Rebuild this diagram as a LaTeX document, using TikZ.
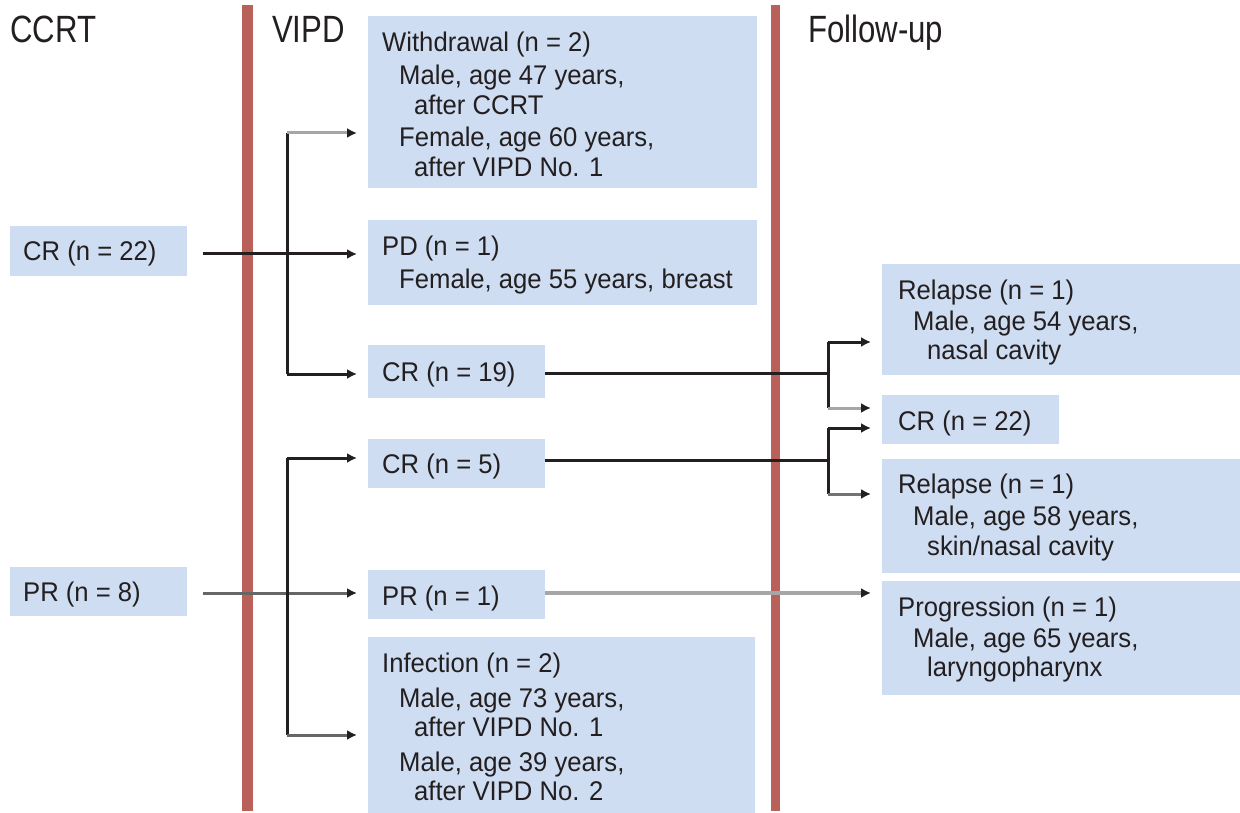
\documentclass[tikz,border=0pt]{standalone}
\usepackage{fontspec}
\setmainfont[FakeStretch=0.95]{Liberation Sans}
\newfontfamily\headfont[FakeStretch=0.82]{Liberation Sans}
\usetikzlibrary{arrows.meta}
\definecolor{boxblue}{RGB}{206,221,241}
\definecolor{barred}{RGB}{185,96,90}
\definecolor{ink}{RGB}{35,31,32}
\tikzset{
  box/.style={fill=boxblue, draw=none, inner sep=0pt, anchor=north west},
  txt/.style={anchor=base west, inner sep=0pt, text=ink, font=\fontsize{27}{30}\selectfont},
  head/.style={anchor=base west, inner sep=0pt, text=ink, font=\headfont\fontsize{38}{40}\selectfont},
  bar/.style={fill=barred, draw=none},
  conn/.style={draw=ink, line width=3pt},
  arr/.style={conn, -{Latex[length=10pt,width=10pt,color=ink]}, shorten >=11pt},
}
\begin{document}
\begin{tikzpicture}[x=1pt,y=-1pt]
\useasboundingbox (0,0) rectangle (1240,813);
% bars
\fill[bar] (242,5) rectangle (253,811);
\fill[bar] (771,5) rectangle (780,811);
% headers
\node[head] (hccrt) at (10,43) {CCRT};
\node[head] (hvipd) at (272,43) {VIPD};
\node[head] (hfu) at (808,43) {Follow-up};
% left boxes
\node[box, minimum width=177pt, minimum height=50pt] (cr22) at (10,226) {};
\node[txt] (tcr22) at (23,261) {CR (n = 22)};
\node[box, minimum width=177pt, minimum height=49pt] (pr8) at (10,567) {};
\node[txt] (tpr8) at (23,601) {PR (n = 8)};
% middle boxes
\node[box, minimum width=389pt, minimum height=172pt] (wd) at (368,16) {};
\node[txt] (wd1) at (382,52) {Withdrawal (n = 2)};
\node[txt] (wd2) at (399,85) {Male, age 47 years,};
\node[txt] (wd3) at (414,115) {after CCRT};
\node[txt] (wd4) at (399,147) {Female, age 60 years,};
\node[txt] (wd5) at (414,177) {after VIPD No. 1};
\node[box, minimum width=389pt, minimum height=85pt] (pd) at (368,220) {};
\node[txt] (pd1) at (382,255) {PD (n = 1)};
\node[txt] (pd2) at (399,288) {Female, age 55 years, breast};
\node[box, minimum width=177pt, minimum height=53pt] (cr19) at (368,345) {};
\node[txt] (tcr19) at (382,381) {CR (n = 19)};
\node[box, minimum width=177pt, minimum height=49pt] (cr5) at (368,439) {};
\node[txt] (tcr5) at (382,473) {CR (n = 5)};
\node[box, minimum width=177pt, minimum height=49pt] (pr1) at (368,570) {};
\node[txt] (tpr1) at (382,605) {PR (n = 1)};
\node[box, minimum width=387pt, minimum height=176pt] (inf) at (368,637) {};
\node[txt] (inf1) at (382,672) {Infection (n = 2)};
\node[txt] (inf2) at (399,707) {Male, age 73 years,};
\node[txt] (inf3) at (414,736) {after VIPD No. 1};
\node[txt] (inf4) at (399,771) {Male, age 39 years,};
\node[txt] (inf5) at (414,800) {after VIPD No. 2};
% right boxes
\node[box, minimum width=358pt, minimum height=111pt] (rl1) at (882,264) {};
\node[txt] (rl1a) at (898,299) {Relapse (n = 1)};
\node[txt] (rl1b) at (913,330) {Male, age 54 years,};
\node[txt] (rl1c) at (927,359) {nasal cavity};
\node[box, minimum width=177pt, minimum height=49pt] (fcr) at (882,395) {};
\node[txt] (tfcr) at (898,430) {CR (n = 22)};
\node[box, minimum width=358pt, minimum height=114pt] (rl2) at (882,459) {};
\node[txt] (rl2a) at (898,493) {Relapse (n = 1)};
\node[txt] (rl2b) at (913,525) {Male, age 58 years,};
\node[txt] (rl2c) at (927,555) {skin/nasal cavity};
\node[box, minimum width=358pt, minimum height=114pt] (prog) at (882,581) {};
\node[txt] (proga) at (898,616) {Progression (n = 1)};
\node[txt] (progb) at (913,647) {Male, age 65 years,};
\node[txt] (progc) at (927,676) {laryngopharynx};
% junction coordinates
\coordinate (s1) at (203,254);
\coordinate (j1) at (287,254);
\coordinate (j1t) at (287,133);
\coordinate (j1b) at (287,374);
\coordinate (s2) at (203,593);
\coordinate (j2) at (287,593);
\coordinate (j2t) at (287,458);
\coordinate (j2b) at (287,735);
\coordinate (k1) at (828,373);
\coordinate (k1t) at (828,342);
\coordinate (k1b) at (828,408);
\coordinate (k2) at (828,460);
\coordinate (k2t) at (828,428);
\coordinate (k2b) at (828,494);
\coordinate (p1) at (545,593);
% connectors, upper left tree
\draw[arr] (s1) -- (pd.west |- s1);
\draw[conn] (j1t) -- (j1b);
\draw[arr, draw=black!35] (j1t) -- (wd.west |- j1t);
\draw[arr] (j1b) -- (cr19.west |- j1b);
% lower left tree
\draw[arr, draw=black!60] (s2) -- (pr1.west |- s2);
\draw[conn] (j2t) -- (j2b);
\draw[arr] (j2t) -- (cr5.west |- j2t);
\draw[arr, draw=black!60] (j2b) -- (inf.west |- j2b);
% right trees
\draw[conn] (cr19.east |- k1) -- (k1);
\draw[conn] (k1t) -- (k1b);
\draw[arr] (k1t) -- (rl1.west |- k1t);
\draw[arr, draw=black!35] (k1b) -- (fcr.west |- k1b);
\draw[conn] (cr5.east |- k2) -- (k2);
\draw[conn] (k2t) -- (k2b);
\draw[arr] (k2t) -- (fcr.west |- k2t);
\draw[arr, draw=black!55] (k2b) -- (rl2.west |- k2b);
% PR -> progression
\draw[arr, draw=black!35, line width=3.5pt] (p1) -- (prog.west |- p1);
\end{tikzpicture}
\end{document}
